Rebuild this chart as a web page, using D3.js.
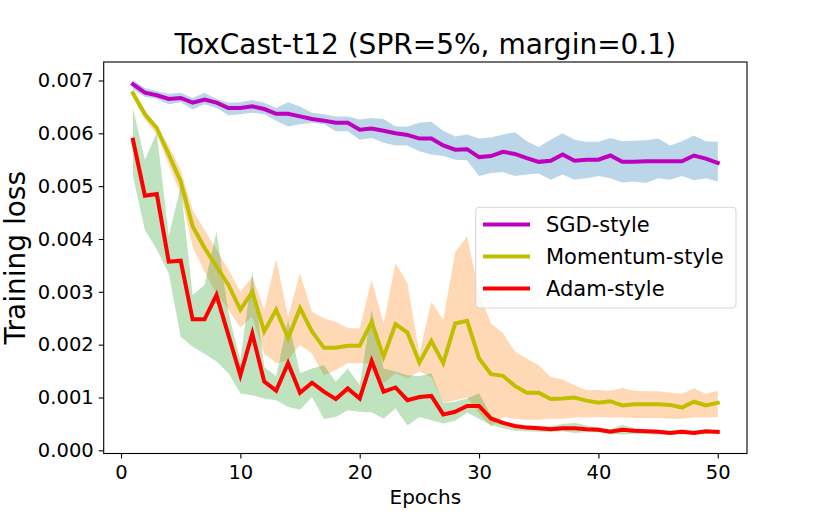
<!DOCTYPE html>
<html>
<head>
<meta charset="utf-8">
<script src="https://cdn.jsdelivr.net/npm/d3@7.9.0/dist/d3.min.js"></script>
<style>
  html, body { margin: 0; padding: 0; background: #fff; }
  svg { display: block; font-family: "DejaVu Sans", sans-serif; }
</style>
</head>
<body>
<svg id="chart" width="830" height="519"></svg>
<script>
// values, epochs 1..50
const epochs = d3.range(1, 51);

const sgdMean = [0.00693,0.00677,0.00672,0.00665,0.00667,0.00658,0.00664,0.00658,0.00648,0.00648,
  0.00651,0.00646,0.00637,0.00637,0.00632,0.00627,0.00624,0.00620,0.00620,0.00607,
  0.00609,0.00605,0.00600,0.00597,0.00590,0.00590,0.00577,0.00569,0.00570,0.00555,
  0.00557,0.00565,0.00561,0.00553,0.00546,0.00548,0.00560,0.00548,0.00550,0.00550,
  0.00558,0.00546,0.00546,0.00547,0.00547,0.00547,0.00547,0.00558,0.00552,0.00544];
const sgdUpper = [0.00701,0.00686,0.00680,0.00675,0.00677,0.00667,0.00677,0.00665,0.00658,0.00659,
  0.00663,0.00658,0.00648,0.00659,0.00651,0.00639,0.00636,0.00632,0.00632,0.00626,
  0.00629,0.00627,0.00613,0.00613,0.00620,0.00622,0.00605,0.00594,0.00598,0.00590,
  0.00592,0.00598,0.00602,0.00585,0.00574,0.00588,0.00600,0.00588,0.00584,0.00584,
  0.00591,0.00585,0.00586,0.00587,0.00590,0.00577,0.00585,0.00596,0.00585,0.00584];
const sgdLower = [0.00683,0.00669,0.00665,0.00655,0.00659,0.00645,0.00655,0.00648,0.00634,0.00636,
  0.00639,0.00636,0.00624,0.00613,0.00617,0.00620,0.00617,0.00604,0.00604,0.00588,
  0.00591,0.00582,0.00577,0.00577,0.00566,0.00560,0.00557,0.00550,0.00549,0.00519,
  0.00525,0.00527,0.00519,0.00522,0.00524,0.00512,0.00522,0.00512,0.00515,0.00519,
  0.00515,0.00507,0.00509,0.00506,0.00515,0.00512,0.00519,0.00511,0.00515,0.00509];

const momMean = [0.00676,0.00636,0.00610,0.00560,0.00509,0.00424,0.00383,0.00348,0.00313,0.00266,
  0.00300,0.00225,0.00266,0.00212,0.00269,0.00225,0.00194,0.00194,0.00198,0.00198,
  0.00243,0.00177,0.00239,0.00223,0.00166,0.00207,0.00165,0.00240,0.00245,0.00174,
  0.00144,0.00141,0.00122,0.00109,0.00109,0.00097,0.00098,0.00100,0.00094,0.00090,
  0.00093,0.00085,0.00087,0.00087,0.00087,0.00086,0.00081,0.00092,0.00085,0.00090];
const momUpper = [0.00680,0.00645,0.00613,0.00576,0.00531,0.00455,0.00417,0.00380,0.00342,0.00300,
  0.00329,0.00266,0.00362,0.00253,0.00335,0.00262,0.00250,0.00243,0.00231,0.00231,
  0.00323,0.00240,0.00354,0.00316,0.00183,0.00281,0.00247,0.00375,0.00405,0.00298,
  0.00240,0.00222,0.00187,0.00174,0.00161,0.00139,0.00134,0.00123,0.00114,0.00114,
  0.00113,0.00118,0.00113,0.00112,0.00112,0.00109,0.00107,0.00117,0.00107,0.00113];
const momLower = [0.00670,0.00626,0.00598,0.00541,0.00484,0.00386,0.00338,0.00297,0.00266,0.00232,
  0.00253,0.00183,0.00165,0.00171,0.00200,0.00183,0.00142,0.00152,0.00165,0.00165,
  0.00165,0.00127,0.00146,0.00136,0.00149,0.00139,0.00089,0.00095,0.00100,0.00070,
  0.00045,0.00063,0.00060,0.00058,0.00058,0.00060,0.00060,0.00062,0.00062,0.00063,
  0.00062,0.00062,0.00061,0.00061,0.00061,0.00060,0.00060,0.00062,0.00062,0.00063];

const adamMean = [0.00588,0.00482,0.00485,0.00357,0.00359,0.00248,0.00248,0.00294,0.00218,0.00142,
  0.00221,0.00130,0.00113,0.00165,0.00109,0.00128,0.00111,0.00097,0.00117,0.00098,
  0.00169,0.00111,0.00119,0.00095,0.00101,0.00103,0.00068,0.00073,0.00084,0.00084,
  0.00060,0.00052,0.00046,0.00043,0.00042,0.00040,0.00042,0.00042,0.00040,0.00039,
  0.00035,0.00039,0.00037,0.00036,0.00035,0.00033,0.00035,0.00033,0.00036,0.00035];
const adamUpper = [0.00648,0.00550,0.00601,0.00405,0.00500,0.00294,0.00313,0.00414,0.00260,0.00170,
  0.00338,0.00158,0.00140,0.00247,0.00146,0.00155,0.00161,0.00130,0.00155,0.00123,
  0.00266,0.00155,0.00149,0.00142,0.00140,0.00146,0.00089,0.00092,0.00098,0.00108,
  0.00066,0.00056,0.00049,0.00047,0.00047,0.00046,0.00050,0.00052,0.00047,0.00043,
  0.00040,0.00048,0.00042,0.00040,0.00039,0.00037,0.00040,0.00037,0.00039,0.00038];
const adamLower = [0.00519,0.00417,0.00380,0.00335,0.00215,0.00196,0.00183,0.00168,0.00146,0.00108,
  0.00104,0.00098,0.00095,0.00082,0.00077,0.00101,0.00060,0.00063,0.00076,0.00073,
  0.00072,0.00060,0.00079,0.00047,0.00063,0.00057,0.00051,0.00056,0.00071,0.00060,
  0.00048,0.00042,0.00037,0.00036,0.00035,0.00035,0.00036,0.00033,0.00034,0.00034,
  0.00031,0.00030,0.00031,0.00031,0.00030,0.00030,0.00031,0.00030,0.00031,0.00032];

const seriesNames = ['SGD-style', 'Momentum-style', 'Adam-style'];
const xTicks = [0, 10, 20, 30, 40, 50];
const yTicks = [0, 0.001, 0.002, 0.003, 0.004, 0.005, 0.006, 0.007];

const lineColors = ['#bf00bf', '#bfbf00', '#ff0000'];
const bandColors = ['#1f77b4', '#ff7f0e', '#2ca02c'];

const series = [
  { mean: sgdMean, upper: sgdUpper, lower: sgdLower },
  { mean: momMean, upper: momUpper, lower: momLower },
  { mean: adamMean, upper: adamUpper, lower: adamLower },
];

const plotLeft = 103.7, plotRight = 747, plotTop = 62, plotBottom = 453.5;

const x = d3.scaleLinear().domain([-1.45, 52.45]).range([plotLeft, plotRight]);
const y = d3.scaleLinear().domain([-0.00006, 0.00735]).range([plotBottom, plotTop]);

const svg = d3.select('#chart');

// bands go under all lines (matplotlib zorder)
const area = d3.area()
  .x((d, i) => x(epochs[i]))
  .y0((d) => y(d[0]))
  .y1((d) => y(d[1]));

series.forEach((s, k) => {
  svg.append('path')
    .datum(s.lower.map((v, i) => [v, s.upper[i]]))
    .attr('d', area)
    .attr('fill', bandColors[k])
    .attr('fill-opacity', 0.3);
});

const line = d3.line()
  .x((d, i) => x(epochs[i]))
  .y((d) => y(d));

series.forEach((s, k) => {
  svg.append('path')
    .datum(s.mean)
    .attr('d', line)
    .attr('fill', 'none')
    .attr('stroke', lineColors[k])
    .attr('stroke-width', 4)
    .attr('stroke-linejoin', 'miter')
    .attr('stroke-linecap', 'square');
});

// axes
const xAxis = svg.append('g')
  .attr('transform', `translate(0,${plotBottom})`)
  .call(d3.axisBottom(x).tickValues(xTicks).tickSize(5).tickPadding(7).tickSizeOuter(0));
const yAxis = svg.append('g')
  .attr('transform', `translate(${plotLeft},0)`)
  .call(d3.axisLeft(y).tickValues(yTicks).tickFormat(d3.format('.3f')).tickSize(5).tickPadding(5).tickSizeOuter(0));

[xAxis, yAxis].forEach((g) => {
  g.select('.domain').remove();
  g.selectAll('.tick line').attr('stroke', '#000').attr('stroke-width', 1.1);
  g.selectAll('.tick text')
    .attr('fill', '#000')
    .style('font-family', '"DejaVu Sans", sans-serif')
    .style('font-size', '19.5px');
});

svg.append('rect')
  .attr('x', plotLeft).attr('y', plotTop)
  .attr('width', plotRight - plotLeft).attr('height', plotBottom - plotTop)
  .attr('fill', 'none')
  .attr('stroke', '#000')
  .attr('stroke-width', 1.1);

// titles
svg.append('text')
  .attr('x', (plotLeft + plotRight) / 2).attr('y', 54)
  .attr('text-anchor', 'middle')
  .style('font-size', '28px')
  .text('ToxCast-t12 (SPR=5%, margin=0.1)');

svg.append('text')
  .attr('x', (plotLeft + plotRight) / 2).attr('y', 504)
  .attr('text-anchor', 'middle')
  .style('font-size', '20px')
  .text('Epochs');

svg.append('text')
  .attr('transform', `translate(25,${(plotTop + plotBottom) / 2}) rotate(-90)`)
  .attr('text-anchor', 'middle')
  .style('font-size', '28px')
  .text('Training loss');

// legend
const legend = svg.append('g');
legend.append('rect')
  .attr('x', 475.7).attr('y', 207.3)
  .attr('width', 260.3).attr('height', 100.7)
  .attr('rx', 4).attr('ry', 4)
  .attr('fill', '#fff').attr('fill-opacity', 0.8)
  .attr('stroke', '#d6d6d6').attr('stroke-width', 1.1);

seriesNames.forEach((name, k) => {
  const cy = 224.5 + k * 32;
  legend.append('line')
    .attr('x1', 483).attr('x2', 530)
    .attr('y1', cy).attr('y2', cy)
    .attr('stroke', lineColors[k])
    .attr('stroke-width', 4);
  legend.append('text')
    .attr('x', 546).attr('y', cy)
    .attr('dy', '0.36em')
    .style('font-size', '21px')
    .text(name);
});
</script>
</body>
</html>
